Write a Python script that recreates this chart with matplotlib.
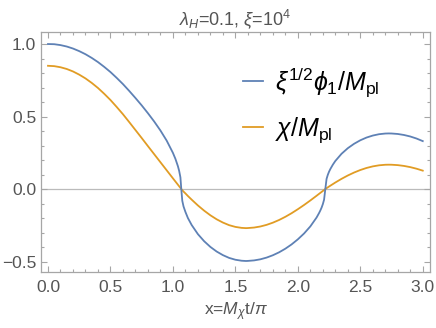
import numpy as np
import matplotlib
matplotlib.use("Agg")
import matplotlib.pyplot as plt
from matplotlib.ticker import MultipleLocator

plt.rcParams['font.family'] = ['Liberation Sans', 'DejaVu Sans']
plt.rcParams['mathtext.fontset'] = 'custom'
plt.rcParams['mathtext.rm'] = 'Liberation Sans'
plt.rcParams['mathtext.it'] = 'Liberation Sans:italic'

# x = M_chi t / pi
x_vals = [0.00, 0.05, 0.10, 0.15, 0.20, 0.25, 0.30, 0.35, 0.40, 0.45, 0.50, 0.55, 0.60,
          0.65, 0.70, 0.75, 0.80, 0.85, 0.90, 0.95, 1.00,
          1.02, 1.04, 1.05, 1.06, 1.067, 1.075, 1.085, 1.10, 1.12,
          1.15, 1.20, 1.25, 1.30, 1.35, 1.40, 1.45, 1.50, 1.55, 1.585,
          1.60, 1.65, 1.70, 1.75, 1.80, 1.85, 1.90, 1.95, 2.00, 2.05, 2.10, 2.15,
          2.17, 2.18, 2.19, 2.20, 2.21, 2.22, 2.23, 2.24, 2.25, 2.26, 2.28,
          2.30, 2.35, 2.40, 2.45, 2.50, 2.55, 2.60, 2.65, 2.70, 2.727,
          2.75, 2.80, 2.85, 2.90, 2.95, 3.00]

# chi / M_pl  (orange)
chi = [0.850, 0.8475, 0.840, 0.828, 0.811, 0.789, 0.763, 0.732, 0.697, 0.657, 0.614, 0.566,
       0.516, 0.462, 0.407, 0.352, 0.296, 0.2405, 0.185, 0.1295, 0.074,
       0.052, 0.030, 0.019, 0.008, 0.0, -0.008, -0.0175, -0.030, -0.048,
       -0.073, -0.113, -0.149, -0.181, -0.2085, -0.231, -0.249, -0.261, -0.2677, -0.2695,
       -0.2689, -0.2655, -0.2582, -0.2469, -0.2318, -0.2133, -0.1914, -0.1666, -0.1391,
       -0.1098, -0.0787, -0.0463,
       -0.033, -0.0265, -0.020, -0.0133, -0.0066, 0.0, 0.006, 0.0118, 0.0175, 0.023, 0.034,
       0.045, 0.0705, 0.0935, 0.1138, 0.1312, 0.1455, 0.1563, 0.1637, 0.1675, 0.168,
       0.1677, 0.1650, 0.1594, 0.1512, 0.1403, 0.127]

# xi^(1/2) phi_1 / M_pl  (blue)
phi1 = [1.000, 0.9988, 0.9927, 0.9829, 0.9690, 0.9511, 0.9298, 0.9044, 0.8756, 0.8426,
        0.8068, 0.7665, 0.7238, 0.6769, 0.6279, 0.5770, 0.5229, 0.4658, 0.4038, 0.3340,
        0.2496,
        0.2083, 0.1575, 0.1250, 0.0810, 0.0, -0.0810, -0.1200, -0.1575, -0.1999,
        -0.2478, -0.3109, -0.3597, -0.3991, -0.4308, -0.4556, -0.4748, -0.4874, -0.4943,
        -0.4961,
        -0.4955, -0.4920, -0.4845, -0.4726, -0.4565, -0.4362, -0.4113, -0.3817, -0.3468,
        -0.3063, -0.2576, -0.1963,
        -0.1653, -0.1479, -0.1283, -0.1045, -0.0735, 0.0, 0.0701, 0.0984, 0.1200, 0.1377,
        0.1678,
        0.1934, 0.2434, 0.2817, 0.3120, 0.3363, 0.3552, 0.3689, 0.3782, 0.3828, 0.3835,
        0.3831, 0.3798, 0.3728, 0.3625, 0.3484, 0.3306]

blue = '#5E81B5'
orange = '#E19C24'
gray = '#A6A6A6'
txt = '#555555'

fig = plt.figure(figsize=(4.36, 3.28), dpi=100)
ax = fig.add_axes([41/436, 56/328, 389/436, 240/328])

ax.axhline(0, color='#BBBBBB', lw=0.9, zorder=1)
ax.plot(x_vals, phi1, color=blue, lw=1.3, label=r'$\xi^{1/2}\phi_1/M_{\rm pl}$', zorder=3)
ax.plot(x_vals, chi, color=orange, lw=1.3, label=r'$\chi/M_{\rm pl}$', zorder=2)

ax.set_xlim(-0.056, 3.058)
ax.set_ylim(-0.572, 1.083)

ax.xaxis.set_major_locator(MultipleLocator(0.5))
ax.xaxis.set_minor_locator(MultipleLocator(0.1))
ax.yaxis.set_major_locator(MultipleLocator(0.5))
ax.yaxis.set_minor_locator(MultipleLocator(0.1))
fmt = plt.FuncFormatter(lambda v, p: f'{v:.1f}'.replace('-', '\u2212'))
ax.xaxis.set_major_formatter(fmt)
ax.yaxis.set_major_formatter(fmt)

ax.tick_params(which='both', direction='in', top=True, right=True, color=gray,
               labelcolor=txt, labelsize=12.5, width=0.8)
ax.tick_params(which='major', length=4.5)
ax.tick_params(which='minor', length=2.5)
ax.tick_params(axis='x', which='major', pad=6)
ax.tick_params(axis='y', which='major', pad=3.5)
for s in ax.spines.values():
    s.set_color(gray)
    s.set_linewidth(0.9)

ax.set_title(r'$\lambda_H$=0.1, $\xi$=10$^4$', color=txt, fontsize=13, pad=5)
ax.set_xlabel(r'x=$M_\chi$t/$\pi$', color=txt, fontsize=12.5, labelpad=4)

ax.legend(loc='upper left', bbox_to_anchor=(0.519, 0.8625), frameon=False, fontsize=18,
          handlelength=0.8, handletextpad=0.48, labelspacing=0.65, borderpad=0,
          borderaxespad=0)

fig.savefig('out.png', dpi=100)
